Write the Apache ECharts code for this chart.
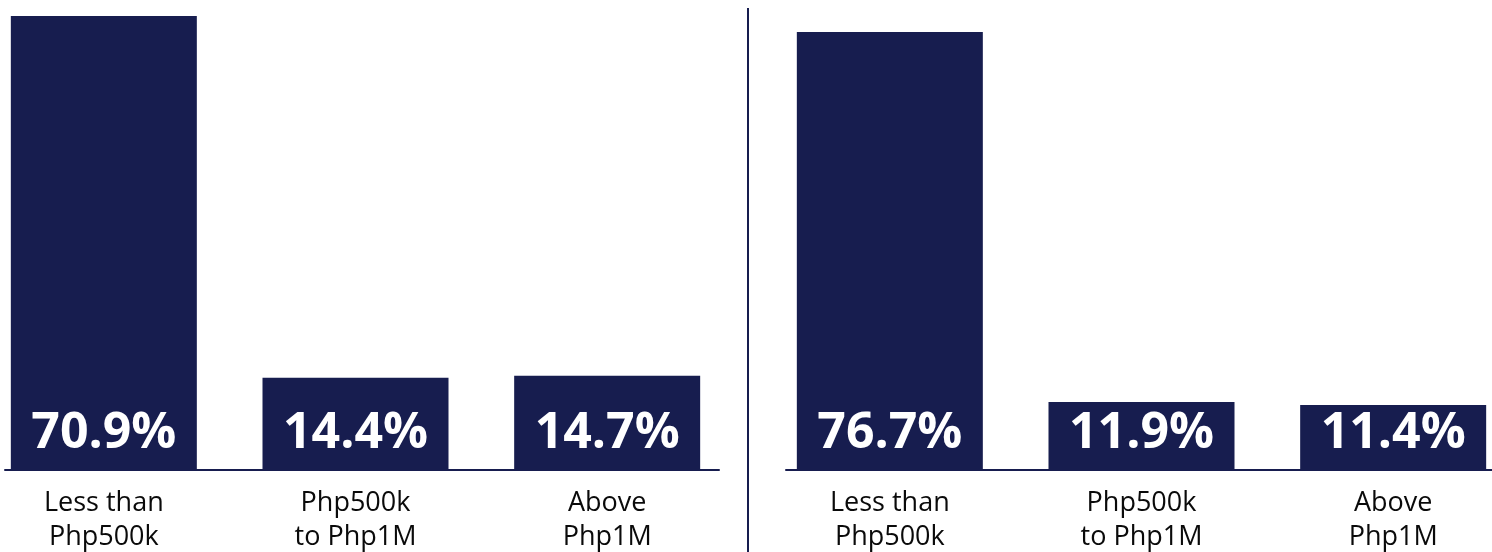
<!DOCTYPE html>
<html>
<head>
<meta charset="utf-8">
<script src="https://cdn.jsdelivr.net/npm/echarts@6/dist/echarts.min.js"></script>
<style>
  html, body { margin: 0; padding: 0; background: #fff; }
  #chart { width: 1492px; height: 552px; }
</style>
</head>
<body>
<div id="chart"></div>
<script>
// categories and values
const categories = ['Less than\nPhp500k', 'Php500k\nto Php1M', 'Above\nPhp1M']
const leftValues = [70.9, 14.4, 14.7]
const rightValues = [76.7, 11.9, 11.4]
const leftMax = 70.9
const rightMax = 79.5

const navy = '#171d4f'
const font = '"Open Sans", "Segoe UI", sans-serif'

var myChart = echarts.init(document.getElementById('chart'))

const barSeries = (data, idx) => ({
  type: 'bar',
  xAxisIndex: idx,
  yAxisIndex: idx,
  data: data,
  barWidth: 186,
  itemStyle: { color: navy },
  label: {
    show: true,
    position: 'insideBottom',
    distance: 11,
    formatter: p => p.value.toFixed(1) + '%',
    color: '#fff',
    fontFamily: font,
    fontWeight: 'bold',
    fontSize: 50,
    lineHeight: 50
  },
  silent: true
})

const catAxis = (gridIndex, showLine) => ({
  type: 'category',
  gridIndex: gridIndex,
  data: categories,
  axisTick: { show: false },
  axisLine: { show: showLine, lineStyle: { color: navy, width: 2 } },
  axisLabel: {
    show: !showLine,
    interval: 0,
    margin: 16,
    color: '#0a0a0a',
    fontFamily: font,
    fontSize: 27,
    lineHeight: 34
  }
})

const valAxis = (gridIndex, max) => ({
  type: 'value',
  gridIndex: gridIndex,
  min: 0,
  max: max,
  show: false,
  splitLine: { show: false }
})

myChart.setOption({
  animation: false,
  grid: [
    { left: -22, width: 755, top: 16, bottom: 82, outerBoundsMode: 'none', containLabel: false },
    { left: 5, width: 714, top: 16, bottom: 82, outerBoundsMode: 'none' },
    { left: 764, width: 755, top: 16, bottom: 82, outerBoundsMode: 'none', containLabel: false },
    { left: 786, width: 706, top: 16, bottom: 82, outerBoundsMode: 'none' }
  ],
  xAxis: [
    catAxis(0, false),
    catAxis(1, true),
    catAxis(2, false),
    catAxis(3, true)
  ],
  yAxis: [
    valAxis(0, leftMax),
    valAxis(1, leftMax),
    valAxis(2, rightMax),
    valAxis(3, rightMax)
  ],
  series: [
    barSeries(leftValues, 0),
    barSeries(rightValues, 2)
  ],
  graphic: [
    {
      type: 'line',
      shape: { x1: 748, y1: 8, x2: 748, y2: 552 },
      style: { stroke: navy, lineWidth: 2 }
    }
  ]
})
</script>
</body>
</html>
